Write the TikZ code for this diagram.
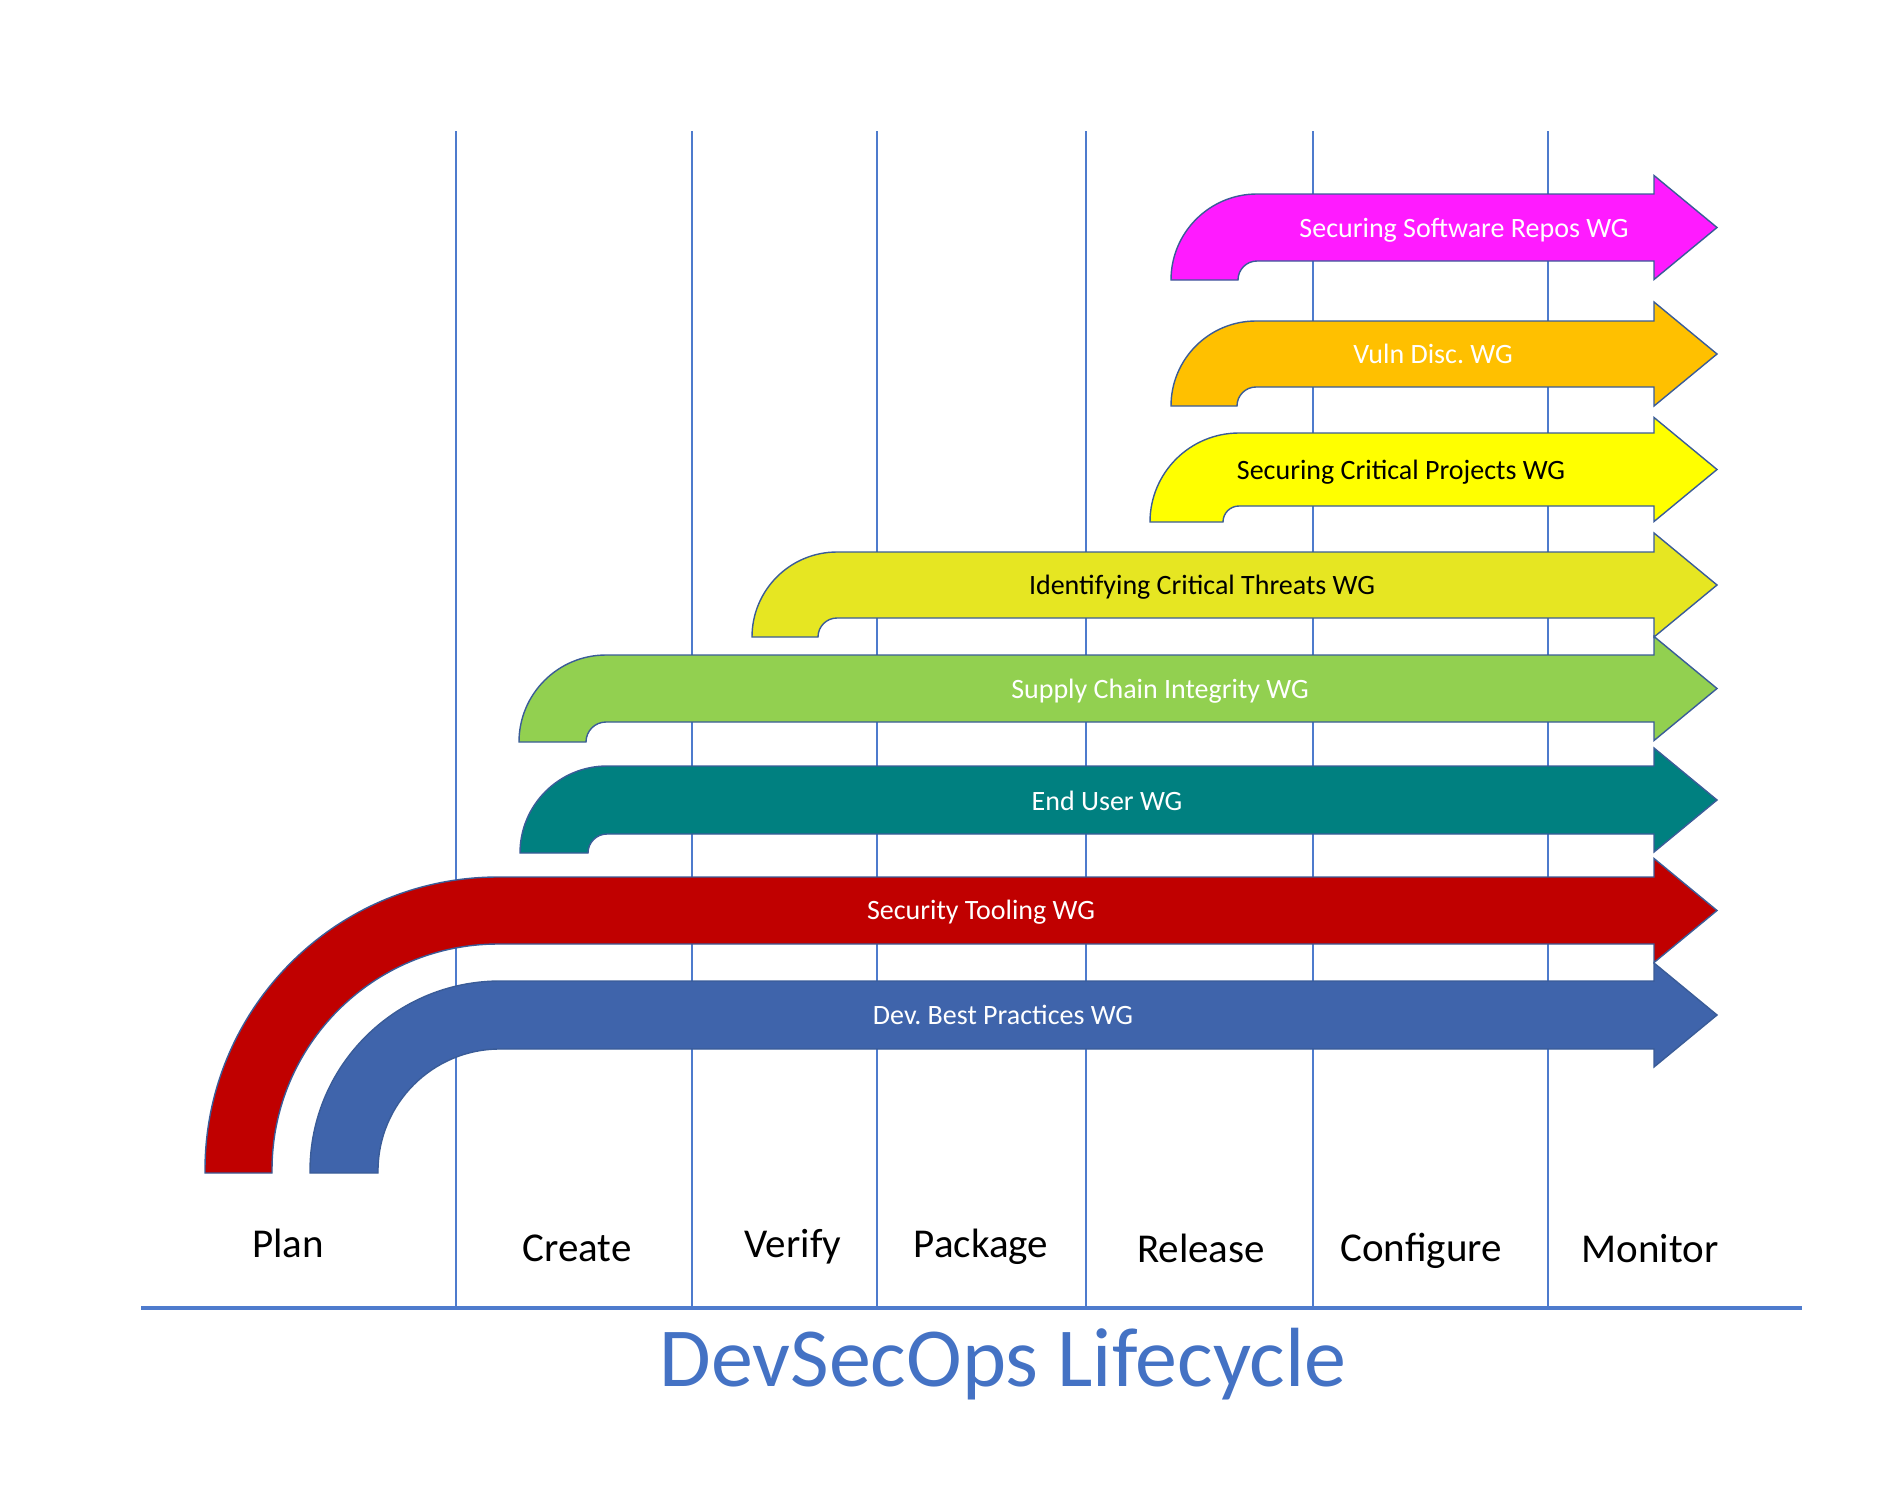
\documentclass[tikz,border=0pt]{standalone}
\usepackage{fontspec}
\setmainfont{Carlito}
\frenchspacing
\definecolor{gridblue}{HTML}{4E7BCD}
\definecolor{edgeblue}{HTML}{3A5C98}
\definecolor{cMag}{HTML}{FF1BFF}
\definecolor{cOrange}{HTML}{FFC000}
\definecolor{cYellow}{HTML}{FFFF00}
\definecolor{cLime}{HTML}{E6E622}
\definecolor{cGreen}{HTML}{92D050}
\definecolor{cTeal}{HTML}{008080}
\definecolor{cRed}{HTML}{C00000}
\definecolor{cBlue}{HTML}{3F64AB}
\definecolor{cTitle}{HTML}{4472C4}
\tikzset{
  gridline/.style={draw=gridblue, line width=2.2pt},
  baseline/.style={draw=gridblue, line width=3.2pt},
  wgshape/.style={draw=edgeblue, line width=1.4pt, line join=miter},
  wglabel/.style={font=\fontsize{28}{30}\selectfont, inner sep=0pt, anchor=base},
  stagelabel/.style={font=\fontsize{41}{44}\selectfont, inner sep=0pt, anchor=base},
}
% #1 xl, #2 yt, #3 shaft width, #4 yb, #5 outer radius, #6 fill
\newcommand\wgarrow[6]{%
  \pgfmathsetmacro\wgr{#5-#3}%
  \pgfmathsetmacro\wgKa{#5*0.5523}%
  \pgfmathsetmacro\wgKb{\wgr*0.5523}%
  \pgfmathsetmacro\wgmid{#2+#3/2}%
  \draw[wgshape, fill=#6] (#1,#4) -- (#1,#2+#5)
    .. controls (#1,#2+#5-\wgKa) and (#1+#5-\wgKa,#2) .. (#1+#5,#2)
    -- (1654,#2) -- (1654,\wgmid-52) -- (1717,\wgmid) -- (1654,\wgmid+52)
    -- (1654,#2+#3) -- (#1+#3+\wgr,#2+#3)
    .. controls (#1+#3+\wgr-\wgKb,#2+#3) and (#1+#3,#2+#3+\wgr-\wgKb) .. (#1+#3,#2+#3+\wgr)
    -- (#1+#3,#4) -- cycle;
}
\begin{document}
\begin{tikzpicture}[x=1pt,y=-1pt]
\useasboundingbox (0,0) rectangle (1901,1488);
% grid lines
\foreach \gx in {456,692,877,1086,1313,1548}
  \draw[gridline] (\gx,131) -- (\gx,1308);
\coordinate (bl) at (141,1308);
\coordinate (br) at (1802,1308);
\draw[baseline] (bl) -- (br);
% arrows
\wgarrow{1171}{194}{67}{280}{86}{cMag}
\wgarrow{1171}{321}{66}{406}{85}{cOrange}
\wgarrow{1150}{433}{73}{522}{89}{cYellow}
\wgarrow{752}{552}{66}{637}{85}{cLime}
\wgarrow{519}{655}{67}{742}{87}{cGreen}
\wgarrow{520}{766}{68}{853}{87}{cTeal}
\wgarrow{205}{877}{67}{1173}{293}{cRed}
\wgarrow{310}{981}{68}{1173}{190}{cBlue}
% arrow labels
\node[wglabel, text=white] (ssr) at (1464,237) {Securing Software Repos WG};
\node[wglabel, text=white] (vd) at (1433,363) {Vuln Disc. WG};
\node[wglabel, text=black] (scp) at (1401,479) {Securing Critical Projects WG};
\node[wglabel, text=black] (ict) at (1202,594) {Identifying Critical Threats WG};
\node[wglabel, text=white] (sci) at (1160,698) {Supply Chain Integrity WG};
\node[wglabel, text=white] (eu) at (1107,810) {End User WG};
\node[wglabel, text=white] (st) at (981,919) {Security Tooling WG};
\node[wglabel, text=white] (dbp) at (1003,1024) {Dev. Best Practices WG};
% stage labels
\node[stagelabel] (plan) at (288,1257) {Plan};
\node[stagelabel] (create) at (577,1261) {Create};
\node[stagelabel] (verify) at (793,1257) {Verify};
\node[stagelabel] (package) at (981,1257) {Package};
\node[stagelabel] (release) at (1201,1262) {Release};
\node[stagelabel] (configure) at (1421,1261) {Configure};
\node[stagelabel] (monitor) at (1650,1262) {Monitor};
% title
\node[font=\fontsize{84}{90}\selectfont, text=cTitle, inner sep=0pt, anchor=base] (title) at (1003,1386) {DevSecOps Lifecycle};
\end{tikzpicture}
\end{document}
